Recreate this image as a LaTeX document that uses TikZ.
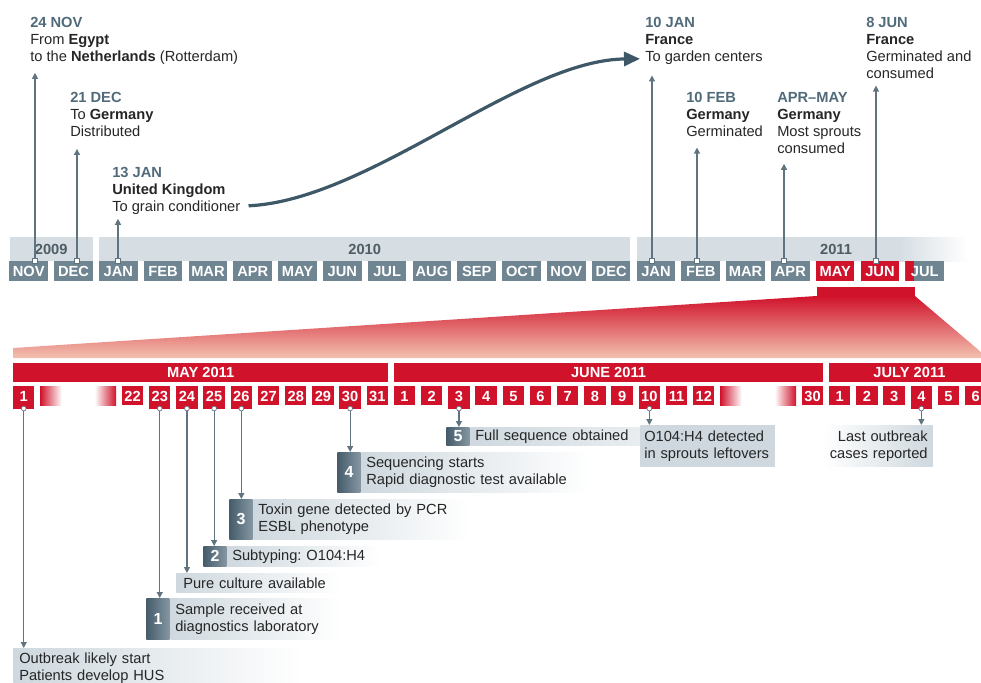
\documentclass[tikz,border=0pt]{standalone}
\usepackage{fontspec}
\setmainfont{Liberation Sans}
\usetikzlibrary{arrows.meta,calc,positioning}
\definecolor{ehecred}{RGB}{208,18,43}
\definecolor{salmon}{RGB}{243,194,176}
\definecolor{slate}{RGB}{111,133,146}
\definecolor{slatedark}{RGB}{70,92,107}
\definecolor{band}{RGB}{214,222,228}
\definecolor{headc}{RGB}{80,106,122}
\definecolor{yeartxt}{RGB}{78,92,100}
\definecolor{bodyc}{RGB}{38,38,38}
\definecolor{callc}{RGB}{206,216,222}
\definecolor{linec}{RGB}{96,116,128}
\definecolor{curvec}{RGB}{62,88,104}
\newcommand{\txtsize}{\fontsize{11}{12.75}\selectfont}
\newcommand{\calltxt}{\txtsize\hyphenpenalty=10000\relax}
\newcommand{\hd}[1]{\textcolor{headc}{\textbf{#1}}}

\begin{document}
\begin{tikzpicture}[x=0.75pt, y=-0.75pt, >=Stealth,
    mg/.style={fill=slate},
    mr/.style={fill=ehecred},
    mj/.style={fill=slate, path picture={\fill[ehecred] (path picture bounding box.north west) rectangle ([xshift=6.75pt]path picture bounding box.south west);}},
    month/.style={text=white, font=\txtsize\bfseries, minimum width=28.9pt, minimum height=15pt, inner sep=0pt, text height=7.9pt, text depth=0pt},
    event/.style={anchor=north west, align=left, inner sep=0pt, text=bodyc, font=\txtsize},
    tick/.style={draw=linec, fill=white, line width=0.6pt, minimum size=3.4pt, inner sep=0pt},
    evline/.style={draw=linec, line width=0.9pt, -{Triangle[length=4.5pt,width=4.5pt]}},
    bar/.style={fill=ehecred, text=white, font=\txtsize\bfseries, minimum height=14.25pt, inner sep=0pt, text height=7.9pt, text depth=0pt},
    day/.style={fill=ehecred, text=white, font=\txtsize\bfseries, minimum width=16.1pt, minimum height=14.25pt, inner sep=0pt, text height=7.9pt, text depth=0pt, anchor=north},
    dayev/.style={day, minimum height=17.25pt, text depth=3pt},
    daydot/.style={circle, draw=linec, fill=white, line width=0.5pt, minimum size=3.6pt, inner sep=0pt},
    callout/.style={anchor=north west, align=left, inner xsep=3.75pt, inner ysep=0pt, text=bodyc, font=\calltxt, left color=callc, right color=white},
    tab/.style={anchor=north east, text=white, font=\fontsize{12}{14}\selectfont\bfseries, left color=slatedark, right color=slate!85, inner sep=0pt, minimum width=17.5pt}]
  \useasboundingbox (0,0) rectangle (981,682);
  \clip (0,0) rectangle (981,682);
  % year bands
  \fill[band] (9.5,237) rectangle (92.8,261);
  \fill[band] (99.1,237) rectangle (630.4,261);
  \fill[band] (636.7,237) rectangle (900,261);
  \shade[left color=band, right color=white] (899.6,237) rectangle (968,261);
  \foreach \y/\x in {2009/51.2, 2010/364.7, 2011/836}
    \node[font=\txtsize\bfseries, text=yeartxt, inner sep=0pt] (yr\y) at (\x,249) {\y};
  % months
  \foreach \m/\s [count=\i from 0] in {NOV/mg,DEC/mg,JAN/mg,FEB/mg,MAR/mg,APR/mg,MAY/mg,JUN/mg,JUL/mg,AUG/mg,SEP/mg,OCT/mg,NOV/mg,DEC/mg,JAN/mg,FEB/mg,MAR/mg,APR/mg,MAY/mr,JUN/mr,JUL/mj}
    \node[month, \s] (m\i) at ({28.75+44.8*\i},271) {\m};
  % shipments
  \node[event] (nov24) at (30,17) {\hd{24 NOV}\\From \textbf{Egypt}\\to the \textbf{Netherlands} (Rotterdam)};
  \node[event] (dec21) at (70,92) {\hd{21 DEC}\\To \textbf{Germany}\\Distributed};
  \node[event] (jan13) at (112,167) {\hd{13 JAN}\\\textbf{United Kingdom}\\To grain conditioner};
  \node[event] (jan10) at (645,17) {\hd{10 JAN}\\\textbf{France}\\To garden centers};
  \node[event] (feb10) at (686,92) {\hd{10 FEB}\\\textbf{Germany}\\Germinated};
  \node[event] (aprmay) at (777,92) {\hd{APR--MAY}\\\textbf{Germany}\\Most sprouts\\consumed};
  \node[event] (jun8) at (866,17) {\hd{8 JUN}\\\textbf{France}\\Germinated and\\consumed};
  \foreach \e/\x/\s in {nov24/35/6, dec21/77/9, jan13/118/3, jan10/652/8, feb10/697/8, aprmay/784/7.5, jun8/876/5} {
    \node[tick] (tk\e) at (\x,261) {};
    \draw[evline, shorten >=\s pt] (tk\e.north) -- (tk\e.north |- \e.south);
  }
  \draw[curvec, line width=2.4pt, -{Triangle[length=12pt,width=10.5pt]}]
    ($(jan13.south east)+(8,-9)$) .. controls (370,200) and (520,60) .. ($(jan10.south west)+(-5,-6)$);
  % zoom into may-july 2011
  \fill[ehecred] (816.5,287) rectangle (915,296.5);
  \shade[top color=ehecred, bottom color=salmon] (816.5,296) -- (915,296) -- (988,358) -- (13,358) -- (13,348) -- cycle;
  \node[bar, minimum width=281.4pt] (bmay) at (200.6,372.5) {MAY 2011};
  \node[bar, minimum width=322.1pt] (bjun) at (608.55,372.5) {JUNE 2011};
  \node[bar, minimum width=120.75pt] (bjul) at (909.5,372.5) {JULY 2011};
  % days
  \foreach \d/\k/\s in {1/0/dayev, 22/4/day, 23/5/dayev, 24/6/dayev, 25/7/dayev, 26/8/dayev, 27/9/day, 28/10/day, 29/11/day, 30/12/dayev, 31/13/day}
    \node[\s] (may\d) at ({23.75+27.2*\k},386) {\d};
  \foreach \d/\k/\s in {1/14/day, 2/15/day, 3/16/dayev, 4/17/day, 5/18/day, 6/19/day, 7/20/day, 8/21/day, 9/22/day, 10/23/dayev, 11/24/day, 12/25/day, 30/29/day}
    \node[\s] (jun\d) at ({23.75+27.2*\k},386) {\d};
  \foreach \d/\k/\s in {1/30/day, 2/31/day, 3/32/day, 4/33/dayev, 5/34/day, 6/35/day}
    \node[\s] (jul\d) at ({23.75+27.2*\k},386) {\d};
  \foreach \a in {40.2,720.2}
    \shade[left color=ehecred, middle color=ehecred!60, right color=white] (\a,386) rectangle ({\a+21.5},405);
  \foreach \a in {94.6,774.6}
    \shade[left color=white, middle color=ehecred!60, right color=ehecred] (\a,386) rectangle ({\a+21.5},405);
  % findings
  \node[callout, text width=208.5pt, minimum height=30pt, inner xsep=4.5pt] (c0) at (13,648) {Outbreak likely start\\Patients develop HUS};
  \node[callout, text width=120pt, minimum height=30.75pt] (c1) at (170,598) {Sample received at\\diagnostics laboratory};
  \node[tab, minimum height=30.75pt] (t1) at (c1.north west) {1};
  \node[callout, text width=112.5pt, minimum height=14.25pt, inner xsep=5.25pt] (cpure) at (176,573) {Pure culture available};
  \node[callout, text width=107.5pt, minimum height=15pt] (c2) at (227,546) {Subtyping:\ O104:H4};
  \node[tab, minimum height=15pt] (t2) at (c2.north west) {2};
  \node[callout, text width=155.5pt, minimum height=30pt] (c3) at (253,499) {Toxin gene detected by PCR\\ESBL phenotype};
  \node[tab, minimum height=30pt] (t3) at (c3.north west) {3};
  \node[callout, text width=164.5pt, minimum height=30pt] (c4) at (361,452) {Sequencing starts\\Rapid diagnostic test available};
  \node[tab, minimum height=30pt] (t4) at (c4.north west) {4};
  \node[callout, text width=121pt, minimum height=13.5pt, right color=callc!45] (c5) at (470,427) {Full sequence obtained};
  \node[tab, minimum height=13.5pt] (t5) at (c5.north west) {5};
  \node[callout, text width=95pt, inner xsep=3pt, minimum height=30.75pt, right color=callc] (csprout) at (640,425) {O104:H4 detected\\in sprouts leftovers};
  \node[callout, text width=74.5pt, minimum height=30.75pt, align=right, left color=white, right color=callc] (clast) at (823,425) {Last outbreak\\cases reported};
  \foreach \d/\c in {may1/c0, may23/t1, may24/cpure, may25/t2, may26/t3, may30/t4, jun3/t5, jun10/csprout, jul4/clast} {
    \node[daydot] (k\d) at ([yshift=0.75pt]\d.south) {};
    \draw[evline] (k\d.south) -- (k\d.south |- \c.north);
  }
\end{tikzpicture}
\end{document}
